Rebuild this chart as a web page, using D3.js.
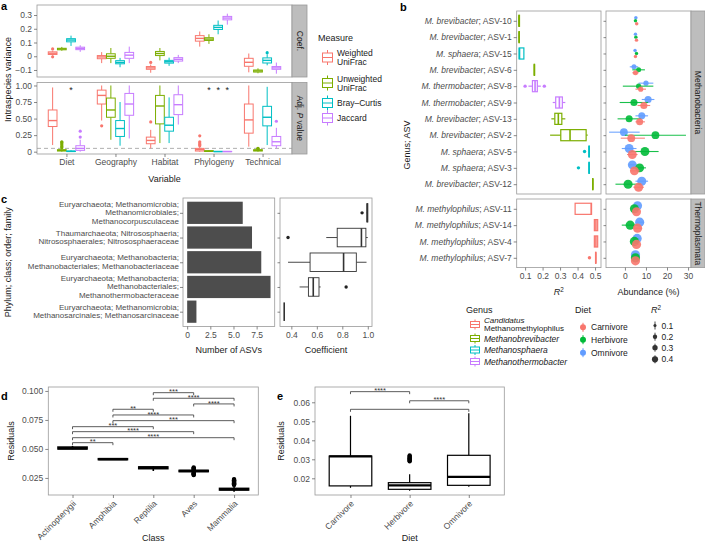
<!DOCTYPE html>
<html><head><meta charset="utf-8">
<script src="https://cdn.jsdelivr.net/npm/d3@7"></script>
<style>body{margin:0;background:#fff}</style>
</head><body>
<svg id="chart" width="705" height="543"></svg>
<script>
// ================= DATA =================
// ---- panel a ----
const aVariables = ["Diet","Geography","Habitat","Phylogeny","Technical"];
const aMeasures = ["Weighted UniFrac","Unweighted UniFrac","Bray–Curtis","Jaccard"];
const aMeasureLabels = [["Weighted","UniFrac"],["Unweighted","UniFrac"],["Bray–Curtis"],["Jaccard"]];
const aMeasureColors = ["#F8766D","#7CAE00","#00BFC4","#C77CFF"];
// [variable][measure] = [lowWhisker, q1, median, q3, highWhisker]
const aCoefStats = [
  [[0.005,0.013,0.022,0.032,0.040],[0.040,0.047,0.053,0.058,0.068],[0.075,0.105,0.118,0.128,0.150],[0.032,0.048,0.057,0.066,0.080]],
  [[-0.050,-0.018,-0.005,0.005,0.030],[-0.050,-0.015,0.000,0.018,0.060],[-0.080,-0.055,-0.045,-0.032,-0.012],[-0.050,-0.015,0.008,0.028,0.070]],
  [[-0.120,-0.095,-0.085,-0.075,-0.060],[-0.030,0.005,0.020,0.035,0.060],[-0.070,-0.050,-0.040,-0.030,-0.010],[-0.050,-0.035,-0.022,-0.010,0.010]],
  [[0.070,0.110,0.130,0.150,0.180],[0.090,0.115,0.125,0.135,0.160],[0.160,0.195,0.210,0.225,0.260],[0.230,0.265,0.278,0.290,0.310]],
  [[-0.117,-0.073,-0.044,-0.015,0.020],[-0.124,-0.115,-0.107,-0.100,-0.088],[-0.066,-0.049,-0.030,-0.012,0.015],[-0.127,-0.095,-0.085,-0.075,-0.046]]
];
const aCoefOutliers = [
  [[0.053,-0.004],[],[],[]],
  [[],[],[],[]],
  [[-0.045],[],[],[]],
  [[],[],[],[]],
  [[],[],[0.026],[]]
];
const aPvalStats = [
  [[0.10,0.38,0.47,0.63,0.97],[0,0.010,0.020,0.030,0.050],[0,0.002,0.005,0.010,0.020],[0,0.020,0.050,0.090,0.180]],
  [[0.47,0.72,0.85,0.93,1.00],[0.18,0.52,0.63,0.81,1.00],[0.09,0.23,0.35,0.47,0.75],[0.20,0.55,0.72,0.88,1.00]],
  [[0.05,0.12,0.17,0.22,0.33],[0.13,0.42,0.69,0.85,1.00],[0.13,0.31,0.40,0.52,0.82],[0.41,0.56,0.71,0.86,1.00]],
  [[0,0.010,0.030,0.050,0.070],[0,0.003,0.008,0.015,0.025],[0,0.001,0.002,0.004,0.008],[0,0.001,0.002,0.004,0.008]],
  [[0.076,0.28,0.48,0.72,1.00],[0,0.010,0.020,0.030,0.040],[0.10,0.39,0.52,0.685,0.98],[0.05,0.09,0.15,0.23,0.36]]
];
const aPvalOutliers = [
  [[],[0.06,0.08,0.10,0.12,0.14,0.15],[],[0.22,0.31]],
  [[0.39],[],[],[]],
  [[0.45],[],[],[]],
  [[0.09,0.11,0.13,0.15,0.24],[],[],[]],
  [[],[0.045,0.05],[],[0.46]]
];
const aPvalStars = [["","","*",""],["","","",""],["","","",""],["","*","*","*"],["","","",""]];
const aCoefTicks = [-0.1,0,0.1,0.2,0.3];
const aPvalTicks = [0,0.25,0.5,0.75,1];
const aPvalThreshold = 0.05;

// ---- panel b ----
const bGenera = ["Candidatus Methanomethylophilus","Methanobrevibacter","Methanosphaera","Methanothermobacter"];
const bGenusColors = ["#F8766D","#7CAE00","#00BFC4","#C77CFF"];
const bFacets = ["Methanobacteria","Thermoplasmata"];
const bAsvTop = ["ASV-10","ASV-1","ASV-15","ASV-6","ASV-8","ASV-9","ASV-13","ASV-2","ASV-5","ASV-3","ASV-12"];
const bGenusLabelTop = ["M. brevibacter","M. brevibacter","M. sphaera","M. brevibacter","M. thermobacter","M. thermobacter","M. brevibacter","M. brevibacter","M. sphaera","M. sphaera","M. brevibacter"];
const bGenusIdxTop = [1,1,2,1,3,3,1,1,2,2,1];
const bAsvBottom = ["ASV-11","ASV-14","ASV-4","ASV-7"];
const bGenusLabelBottom = ["M. methylophilus","M. methylophilus","M. methylophilus","M. methylophilus"];
const bGenusIdxBottom = [0,0,0,0];
// R2 boxplots, rows top then bottom
const bR2Stats = [
  [0.064,0.064,0.066,0.068,0.068],[0.064,0.065,0.066,0.067,0.068],[0.066,0.066,0.068,0.093,0.093],
  [0.152,0.152,0.153,0.154,0.155],[0.119,0.142,0.157,0.170,0.190],[0.258,0.275,0.296,0.313,0.330],
  [0.250,0.270,0.290,0.310,0.330],[0.243,0.304,0.357,0.449,0.458],[0.465,0.465,0.466,0.467,0.468],
  [0.465,0.465,0.466,0.467,0.468],[0.486,0.486,0.487,0.488,0.489],
  [0.386,0.386,0.478,0.480,0.480],[0.496,0.496,0.505,0.515,0.515],[0.496,0.496,0.505,0.515,0.515],[0.502,0.503,0.504,0.505,0.506]
];
const bR2Outliers = [[],[],[],[],[0.100,0.210],[],[],[],[0.440],[0.405],[],[],[],[],[0.468]];
const bDiets = ["Carnivore","Herbivore","Omnivore"];
const bDietColors = ["#F8766D","#00BA38","#619CFF"];
// [mean, low, high] abundance (%), rows top then bottom
const bCarnivore = [[5.6,5.0,6.2],[5.5,5.0,6.0],[5.0,4.4,5.6],[5.0,3.5,6.5],[7.5,5.0,10.0],[9.0,6.0,12.0],[7.0,5.0,9.5],[3.0,-2.0,9.5],[3.5,1.0,6.0],[4.5,2.5,7.0],[6.5,4.0,9.0],
  [5.5,4.5,6.5],[6.0,4.0,8.0],[5.5,4.5,6.5],[5.0,4.5,5.5]];
const bHerbivore = [[5.0,4.5,5.5],[5.2,4.6,5.8],[5.5,4.8,6.2],[6.5,3.5,9.5],[6.5,-1.0,13.5],[4.3,-2.5,11.0],[2.0,-3.5,7.5],[14.5,0.0,29.0],[9.5,3.0,16.0],[7.0,4.0,10.0],[1.5,-4.5,7.5],
  [4.5,3.5,5.5],[2.5,-1.5,6.0],[4.5,3.5,5.5],[5.0,4.5,5.5]];
const bOmnivore = [[5.2,4.6,5.8],[5.0,4.5,5.5],[4.8,4.2,5.4],[4.3,2.3,6.3],[10.0,6.5,13.5],[11.0,8.0,14.0],[8.0,5.0,11.0],[-0.5,-7.5,7.0],[2.0,-1.5,5.5],[3.5,2.0,5.5],[8.0,5.0,11.0],
  [6.0,5.0,7.0],[7.0,5.5,9.0],[5.8,4.8,6.8],[5.0,4.5,5.5]];
const bPointR2 = [0.07,0.07,0.07,0.15,0.16,0.30,0.29,0.36,0.47,0.47,0.49,0.48,0.50,0.50,0.50];
const bR2Ticks = [0.1,0.2,0.3,0.4,0.5];
const bAbundTicks = [0,10,20,30];
const bSizeLegend = [0.1,0.2,0.3,0.4];

// ---- panel c ----
const cFamilies = [
  ["Euryarchaeota; Methanomicrobia;","Methanomicrobiales;","Methanocorpusculaceae"],
  ["Thaumarchaeota; Nitrososphaeria;","Nitrososphaerales; Nitrososphaeraceae"],
  ["Euryarchaeota; Methanobacteria;","Methanobacteriales; Methanobacteriaceae"],
  ["Euryarchaeota; Methanobacteria;","Methanobacteriales;","Methanothermobacteraceae"],
  ["Euryarchaeota; Methanomicrobia;","Methanosarcinales; Methanosarcinaceae"]
];
const cNumASVs = [6,7,8,9,1];
const cCoefStats = [
  [0.990,0.993,0.996,1.000,1.000],
  [0.674,0.760,0.950,0.985,1.000],
  [0.374,0.547,0.810,0.910,0.990],
  [0.465,0.534,0.572,0.617,0.630],
  [0.344,0.344,0.344,0.344,0.344]
];
const cCoefOutliers = [[0.955],[0.374],[],[0.830],[]];
const cBarTicks = [0,2.5,5,7.5];
const cCoefTicks = [0.4,0.6,0.8,1.0];

// ---- panel d ----
const dClasses = ["Actinopterygii","Amphibia","Reptilia","Aves","Mammalia"];
const dStats = [
  [0.0498,0.0500,0.0506,0.0516,0.0526],
  [0.0406,0.0408,0.0412,0.0416,0.0418],
  [0.0310,0.0330,0.0339,0.0345,0.0350],
  [0.0300,0.0305,0.0310,0.0315,0.0320],
  [0.0130,0.0146,0.0153,0.0160,0.0175]
];
const dOutliers = [[],[],[],
  [0.0275,0.0280,0.0285,0.0290,0.0295,0.0325,0.0330,0.0335,0.0340],
  [0.0190,0.0195,0.0200,0.0205,0.0210,0.0215,0.0220,0.0225,0.0230,0.0235,0.0240]];
// [group1, group2, label, y]
const dBrackets = [
  ["Reptilia","Aves","***",0.0985],
  ["Reptilia","Mammalia","****",0.0937],
  ["Aves","Mammalia","****",0.0888],
  ["Amphibia","Reptilia","**",0.0842],
  ["Amphibia","Aves","****",0.0793],
  ["Amphibia","Mammalia","***",0.0744],
  ["Actinopterygii","Reptilia","***",0.0692],
  ["Actinopterygii","Aves","****",0.0649],
  ["Actinopterygii","Mammalia","****",0.0597],
  ["Actinopterygii","Amphibia","**",0.0554]
];
const dTicks = [0.025,0.05,0.075,0.1];

// ---- panel e ----
const eDiets = ["Carnivore","Herbivore","Omnivore"];
const eStats = [
  [0.0150,0.0160,0.0315,0.0317,0.0529],
  [0.0135,0.0142,0.0163,0.0177,0.0221],
  [0.0155,0.0163,0.0207,0.0321,0.0542]
];
const eOutliers = [[],[0.0290,0.0295,0.0300,0.0305,0.0310,0.0315,0.0320],[]];
const eBrackets = [
  ["Carnivore","Herbivore","****",0.0656],
  ["Herbivore","Omnivore","****",0.0608],
  ["Carnivore","Omnivore","",0.0563]
];
const eTicks = [0.02,0.03,0.04,0.05,0.06];

// ================= HELPERS =================
const FONT = '"Liberation Sans", Arial, Helvetica, sans-serif';
const svg = d3.select("#chart");
const BORDER = "#9a9a9a", TICK = "#555", TICKTXT = "#4d4d4d", STRIP = "#bdbdbd";

function addText(g, x, y, str, o = {}) {
  const t = g.append("text").attr("x", x).attr("y", y).text(str)
    .style("font-family", FONT).style("font-size", (o.size || 8.5) + "px")
    .attr("fill", o.fill || "#1a1a1a").attr("text-anchor", o.anchor || "start")
    .attr("dominant-baseline", o.baseline || "central");
  if (o.rotate != null) t.attr("transform", `rotate(${o.rotate},${x},${y})`);
  if (o.italic) t.style("font-style", "italic");
  if (o.bold) t.style("font-weight", "bold");
  return t;
}
function styleAxis(sel, size) {
  sel.select(".domain").remove();
  sel.selectAll(".tick line").attr("stroke", TICK).attr("stroke-width", 0.7);
  sel.selectAll(".tick text").attr("fill", TICKTXT).style("font-size", (size || 8.5) + "px").style("font-family", FONT);
}
function border(g, x0, y0, x1, y1) {
  g.append("rect").attr("x", x0).attr("y", y0).attr("width", x1 - x0).attr("height", y1 - y0)
    .attr("fill", "none").attr("stroke", BORDER).attr("stroke-width", 0.8);
}
function vbox(g, cx, w, y, st, color, o = {}) {
  const lw = o.lw || 1, mw = o.mw || lw * 1.6, fill = o.fill || "#fff";
  const [lo, q1, md, q3, hi] = st;
  g.append("line").attr("x1", cx).attr("x2", cx).attr("y1", y(lo)).attr("y2", y(q1)).attr("stroke", color).attr("stroke-width", lw);
  g.append("line").attr("x1", cx).attr("x2", cx).attr("y1", y(q3)).attr("y2", y(hi)).attr("stroke", color).attr("stroke-width", lw);
  g.append("rect").attr("x", cx - w / 2).attr("width", w).attr("y", y(q3)).attr("height", Math.max(0, y(q1) - y(q3)))
    .attr("fill", fill).attr("stroke", color).attr("stroke-width", lw);
  g.append("line").attr("x1", cx - w / 2).attr("x2", cx + w / 2).attr("y1", y(md)).attr("y2", y(md)).attr("stroke", color).attr("stroke-width", mw);
}
function hbox(g, cy, h, x, st, color, o = {}) {
  const lw = o.lw || 1, mw = o.mw || lw * 1.6, fill = o.fill || "#fff";
  const [lo, q1, md, q3, hi] = st;
  g.append("line").attr("y1", cy).attr("y2", cy).attr("x1", x(lo)).attr("x2", x(q1)).attr("stroke", color).attr("stroke-width", lw);
  g.append("line").attr("y1", cy).attr("y2", cy).attr("x1", x(q3)).attr("x2", x(hi)).attr("stroke", color).attr("stroke-width", lw);
  g.append("rect").attr("y", cy - h / 2).attr("height", h).attr("x", x(q1)).attr("width", Math.max(0, x(q3) - x(q1)))
    .attr("fill", fill).attr("stroke", color).attr("stroke-width", lw);
  g.append("line").attr("y1", cy - h / 2).attr("y2", cy + h / 2).attr("x1", x(md)).attr("x2", x(md)).attr("stroke", color).attr("stroke-width", mw);
}
function bracket(g, x1, x2, y, label) {
  g.append("path").attr("d", `M${x1},${y + 2.5}V${y}H${x2}V${y + 2.5}`)
    .attr("fill", "none").attr("stroke", "#333").attr("stroke-width", 0.8);
  if (label) addText(g, (x1 + x2) / 2, y + 1.6, label, { size: 7.5, anchor: "middle", baseline: "alphabetic", fill: "#333" });
}
function r2Title(g, x, y, anchor, size) {
  const t = g.append("text").attr("x", x).attr("y", y).attr("text-anchor", anchor || "middle")
    .attr("dominant-baseline", "central").style("font-family", FONT).style("font-size", (size || 9) + "px").attr("fill", "#1a1a1a");
  t.append("tspan").style("font-style", "italic").text("R");
  t.append("tspan").attr("dy", -3.5).style("font-size", ((size || 9) * 0.7) + "px").text("2");
  return t;
}

// ================= PANEL LABELS =================
addText(svg, 1, 6, "a", { size: 11, bold: true, fill: "#000" });
addText(svg, 400, 7, "b", { size: 11, bold: true, fill: "#000" });
addText(svg, 1, 199, "c", { size: 11, bold: true, fill: "#000" });
addText(svg, 1, 396, "d", { size: 11, bold: true, fill: "#000" });
addText(svg, 277, 396, "e", { size: 11, bold: true, fill: "#000" });

// ================= PANEL a =================
(function () {
  const g = svg.append("g");
  const L = 37, R = 292, T1 = 5, B1 = 77, T2 = 82.5, B2 = 154, SR = 307;
  const x = d3.scalePoint().domain(aVariables).range([L, R]).padding(0.6);
  const step = x.step();
  const dodge = d3.scaleBand().domain(aMeasures).range([-0.375 * step, 0.375 * step]);
  const bw = dodge.bandwidth();
  const yC = d3.scaleLinear().domain([-0.151, 0.373]).range([B1, T1]);
  const yP = d3.scaleLinear().domain([-0.035, 1.045]).range([B2, T2]);

  g.append("line").attr("x1", L).attr("x2", R).attr("y1", yP(aPvalThreshold)).attr("y2", yP(aPvalThreshold))
    .attr("stroke", "#9a9a9a").attr("stroke-width", 0.8).attr("stroke-dasharray", "4,3");

  aVariables.forEach((v, i) => {
    aMeasures.forEach((m, j) => {
      const cx = x(v) + dodge(m) + bw / 2;
      const col = aMeasureColors[j];
      vbox(g, cx, bw * 0.95, yC, aCoefStats[i][j], col, { lw: 1, mw: 1.4 });
      aCoefOutliers[i][j].forEach(o => g.append("circle").attr("cx", cx).attr("cy", yC(o)).attr("r", 1.6).attr("fill", col));
      vbox(g, cx, bw * 0.95, yP, aPvalStats[i][j], col, { lw: 1, mw: 1.4 });
      aPvalOutliers[i][j].forEach(o => g.append("circle").attr("cx", cx).attr("cy", yP(o)).attr("r", 1.6).attr("fill", col));
      if (aPvalStars[i][j]) addText(g, cx, 93, aPvalStars[i][j], { size: 9, anchor: "middle", baseline: "alphabetic", fill: "#222" });
    });
  });
  border(g, L, T1, R, B1);
  border(g, L, T2, R, B2);

  const ax1 = g.append("g").attr("transform", `translate(${L},0)`)
    .call(d3.axisLeft(yC).tickValues(aCoefTicks).tickSize(3).tickPadding(2).tickFormat(d => d === 0 ? "0" : d3.format(".1f")(d)));
  styleAxis(ax1);
  const ax2 = g.append("g").attr("transform", `translate(${L},0)`)
    .call(d3.axisLeft(yP).tickValues(aPvalTicks).tickSize(3).tickPadding(2).tickFormat(d => d === 0 ? "0" : d3.format(".2f")(d)));
  styleAxis(ax2);
  const axx = g.append("g").attr("transform", `translate(0,${B2})`).call(d3.axisBottom(x).tickSize(3).tickPadding(2));
  styleAxis(axx);

  g.append("rect").attr("x", R).attr("y", T1).attr("width", SR - R).attr("height", B1 - T1).attr("fill", STRIP).attr("stroke", BORDER).attr("stroke-width", 0.8);
  g.append("rect").attr("x", R).attr("y", T2).attr("width", SR - R).attr("height", B2 - T2).attr("fill", STRIP).attr("stroke", BORDER).attr("stroke-width", 0.8);
  addText(g, (R + SR) / 2, (T1 + B1) / 2, "Coef.", { size: 8.5, anchor: "middle", rotate: 90 });
  const st = g.append("text").attr("x", (R + SR) / 2).attr("y", (T2 + B2) / 2).attr("text-anchor", "middle")
    .attr("dominant-baseline", "central").attr("transform", `rotate(90,${(R + SR) / 2},${(T2 + B2) / 2})`)
    .style("font-family", FONT).style("font-size", "8.5px").attr("fill", "#1a1a1a");
  st.append("tspan").text("Adj. ");
  st.append("tspan").style("font-style", "italic").text("P");
  st.append("tspan").text(" value");

  addText(g, (L + R) / 2, 179, "Variable", { size: 9, anchor: "middle" });
  addText(g, 8, (T1 + B2) / 2, "Intraspecies variance", { size: 9, anchor: "middle", rotate: -90 });

  addText(g, 318, 38, "Measure", { size: 9 });
  const keyY = [57.5, 83, 103, 118];
  aMeasures.forEach((m, j) => {
    const cy = keyY[j], cx = 327.5, col = aMeasureColors[j];
    const ky = d3.scaleLinear().domain([0, 1]).range([cy + 7.5, cy - 7.5]);
    vbox(g, cx, 10, ky, [0, 0.2, 0.5, 0.8, 1], col, { lw: 1, mw: 1 });
    const lines = aMeasureLabels[j];
    lines.forEach((s, k) => addText(g, 337, cy + (k - (lines.length - 1) / 2) * 9, s, { size: 8.5 }));
  });
})();

// ================= PANEL b =================
(function () {
  const g = svg.append("g");
  const L1 = 516.7, R1 = 601, L2 = 606, R2 = 691, SR = 705;
  const T1 = 11, B1 = 194, T2 = 199, B2 = 267.6;
  const yT = d3.scalePoint().domain(bAsvTop).range([T1, B1]).padding(0.6);
  const yB = d3.scalePoint().domain(bAsvBottom).range([T2, B2]).padding(0.6);
  const xR = d3.scaleLinear().domain([0.052, 0.534]).range([L1, R1]);
  const xA = d3.scaleLinear().domain([-9, 31.4]).range([L2, R2]);
  const size = d3.scaleSqrt().domain([0, 0.5]).range([0, 4.6]);
  const bh = yT.step() * 0.68;

  const rows = bAsvTop.map((a, i) => ({ y: yT(a), gi: bGenusIdxTop[i] }))
    .concat(bAsvBottom.map((a, i) => ({ y: yB(a), gi: bGenusIdxBottom[i] })));

  rows.forEach((r, i) => {
    const col = bGenusColors[r.gi];
    hbox(g, r.y, bh, xR, bR2Stats[i], col, { lw: 1.2, mw: 1.6 });
    bR2Outliers[i].forEach(o => g.append("circle").attr("cx", xR(o)).attr("cy", r.y).attr("r", 1.7).attr("fill", col));
    const sets = [bCarnivore, bHerbivore, bOmnivore];
    const offs = [3, 0, -3];
    [2, 1, 0].forEach(d => {
      const [m, lo, hi] = sets[d][i];
      const yy = r.y + offs[d];
      g.append("line").attr("x1", xA(lo)).attr("x2", xA(hi)).attr("y1", yy).attr("y2", yy)
        .attr("stroke", bDietColors[d]).attr("stroke-width", 1.1).attr("opacity", 0.9);
      g.append("circle").attr("cx", xA(m)).attr("cy", yy).attr("r", size(bPointR2[i]))
        .attr("fill", bDietColors[d]).attr("opacity", 0.9);
    });
  });
  [[T1, B1], [T2, B2]].forEach(([t, b]) => { border(g, L1, t, R1, b); border(g, L2, t, R2, b); });

  function labelAxis(scale, genusLabels) {
    const ax = g.append("g").attr("transform", `translate(${L1},0)`).call(d3.axisLeft(scale).tickSize(3).tickPadding(2));
    styleAxis(ax);
    ax.selectAll(".tick text").each(function (d, i) {
      const t = d3.select(this); t.text(null);
      t.append("tspan").style("font-style", "italic").text(genusLabels[i]);
      t.append("tspan").text("; " + d);
    });
    const ax2 = g.append("g").attr("transform", `translate(${L2},0)`).call(d3.axisLeft(scale).tickSize(2.5).tickFormat(""));
    styleAxis(ax2);
  }
  labelAxis(yT, bGenusLabelTop);
  labelAxis(yB, bGenusLabelBottom);

  const axr = g.append("g").attr("transform", `translate(0,${B2})`).call(d3.axisBottom(xR).tickValues(bR2Ticks).tickSize(3).tickPadding(2).tickFormat(d3.format(".1f")));
  styleAxis(axr);
  const axa = g.append("g").attr("transform", `translate(0,${B2})`).call(d3.axisBottom(xA).tickValues(bAbundTicks).tickSize(3).tickPadding(2));
  styleAxis(axa);

  g.append("rect").attr("x", R2).attr("y", T1).attr("width", SR - R2).attr("height", B1 - T1).attr("fill", STRIP).attr("stroke", BORDER).attr("stroke-width", 0.8);
  g.append("rect").attr("x", R2).attr("y", T2).attr("width", SR - R2).attr("height", B2 - T2).attr("fill", STRIP).attr("stroke", BORDER).attr("stroke-width", 0.8);
  addText(g, (R2 + SR) / 2, (T1 + B1) / 2, bFacets[0], { size: 8.5, anchor: "middle", rotate: 90 });
  addText(g, (R2 + SR) / 2, (T2 + B2) / 2, bFacets[1], { size: 8.5, anchor: "middle", rotate: 90 });

  r2Title(g, (L1 + R1) / 2, 292, "middle", 9);
  addText(g, (L2 + R2) / 2, 292, "Abundance (%)", { size: 9, anchor: "middle" });
  addText(g, 407, 145, "Genus; ASV", { size: 9, anchor: "middle", rotate: -90 });

  addText(g, 466, 310, "Genus", { size: 9 });
  const gy = [324.5, 338.5, 350, 361.5];
  bGenera.forEach((name, k) => {
    const cy = gy[k], col = bGenusColors[k];
    const ky = d3.scaleLinear().domain([0, 1]).range([cy + 5, cy - 5]);
    vbox(g, 475, 9, ky, [0, 0.2, 0.5, 0.8, 1], col, { lw: 1, mw: 1 });
    if (k === 0) {
      addText(g, 484, cy - 4.1, "Candidatus", { size: 8, italic: true });
      addText(g, 484, cy + 4.1, "Methanomethylophilus", { size: 8 });
    } else addText(g, 484, cy, name, { size: 8.5, italic: true });
  });
  addText(g, 575, 310, "Diet", { size: 9 });
  const dy = [327.3, 339.7, 352.7];
  bDiets.forEach((name, k) => {
    g.append("line").attr("x1", 583).attr("x2", 583).attr("y1", dy[k] - 4.5).attr("y2", dy[k] + 4.5).attr("stroke", bDietColors[k]).attr("stroke-width", 1);
    g.append("circle").attr("cx", 583).attr("cy", dy[k]).attr("r", 3).attr("fill", bDietColors[k]);
    addText(g, 591, dy[k], name, { size: 8.5 });
  });
  r2Title(g, 651, 310, "start", 9);
  const sy = [325.5, 336.7, 347.7, 359.3];
  bSizeLegend.forEach((v, k) => {
    g.append("line").attr("x1", 655).attr("x2", 655).attr("y1", sy[k] - 4).attr("y2", sy[k] + 4).attr("stroke", "#333").attr("stroke-width", 0.9);
    g.append("circle").attr("cx", 655).attr("cy", sy[k]).attr("r", size(v) * 0.75).attr("fill", "#333");
    addText(g, 661.5, sy[k], d3.format(".1f")(v), { size: 8.5 });
  });
})();

// ================= PANEL c =================
(function () {
  const g = svg.append("g");
  const L1 = 183, R1 = 274.7, L2 = 280, R2 = 372, T = 198, B = 326.5;
  const keys = cFamilies.map((f, i) => "f" + i);
  const y = d3.scalePoint().domain(keys).range([T, B]).padding(0.6);
  const xB = d3.scaleLinear().domain([-0.45, 9.45]).range([L1, R1]);
  const xC = d3.scaleLinear().domain([0.311, 1.033]).range([L2, R2]);
  const h = y.step() * 0.9;
  keys.forEach((k, i) => {
    g.append("rect").attr("x", xB(0)).attr("y", y(k) - h / 2).attr("width", xB(cNumASVs[i]) - xB(0)).attr("height", h).attr("fill", "#4d4d4d");
    hbox(g, y(k), y.step() * 0.75, xC, cCoefStats[i], "#333", { lw: 0.9, mw: 1.6 });
    cCoefOutliers[i].forEach(o => g.append("circle").attr("cx", xC(o)).attr("cy", y(k)).attr("r", 1.7).attr("fill", "#222"));
  });
  border(g, L1, T, R1, B);
  border(g, L2, T, R2, B);
  const ay = g.append("g").attr("transform", `translate(${L1},0)`).call(d3.axisLeft(y).tickSize(3).tickFormat(""));
  styleAxis(ay);
  const ay2 = g.append("g").attr("transform", `translate(${L2},0)`).call(d3.axisLeft(y).tickSize(2.5).tickFormat(""));
  styleAxis(ay2);
  keys.forEach((k, i) => {
    const lines = cFamilies[i];
    lines.forEach((s, j) => addText(g, 179, y(k) + (j - (lines.length - 1) / 2) * 8.6, s, { size: 8, anchor: "end", fill: TICKTXT }));
  });
  const axb = g.append("g").attr("transform", `translate(0,${B})`)
    .call(d3.axisBottom(xB).tickValues(cBarTicks).tickSize(3).tickPadding(2).tickFormat(d => d === 0 ? "0" : d3.format(".1f")(d)));
  styleAxis(axb);
  const axc = g.append("g").attr("transform", `translate(0,${B})`)
    .call(d3.axisBottom(xC).tickValues(cCoefTicks).tickSize(3).tickPadding(2).tickFormat(d3.format(".1f")));
  styleAxis(axc);
  addText(g, (L1 + R1) / 2, 350, "Number of ASVs", { size: 9, anchor: "middle" });
  addText(g, (L2 + R2) / 2, 350, "Coefficient", { size: 9, anchor: "middle" });
  addText(g, 8, (T + B) / 2, "Phylum; class; order; family", { size: 9, anchor: "middle", rotate: -90 });
})();

// ================= PANEL d =================
(function () {
  const g = svg.append("g");
  const L = 48.3, R = 258.3, T = 387, B = 495;
  const x = d3.scalePoint().domain(dClasses).range([L, R]).padding(0.6);
  const y = d3.scaleLinear().domain([0.0103, 0.1034]).range([B, T]);
  const w = x.step() * 0.72;
  dClasses.forEach((c, i) => {
    dOutliers[i].forEach(o => g.append("circle").attr("cx", x(c)).attr("cy", y(o)).attr("r", 2.2).attr("fill", "#000"));
    vbox(g, x(c), w, y, dStats[i], "#000", { lw: 1.6, mw: 2.4 });
  });
  dBrackets.forEach(([a, b, lab, v]) => bracket(g, x(a), x(b), y(v), lab));
  border(g, L, T, R, B);
  const ay = g.append("g").attr("transform", `translate(${L},0)`).call(d3.axisLeft(y).tickValues(dTicks).tickSize(3).tickPadding(2).tickFormat(d3.format(".3f")));
  styleAxis(ay);
  const ax = g.append("g").attr("transform", `translate(0,${B})`).call(d3.axisBottom(x).tickSize(3).tickFormat(""));
  styleAxis(ax);
  dClasses.forEach(c => addText(g, x(c) + 2, B + 7, c, { size: 8.5, anchor: "end", rotate: -45, fill: TICKTXT, baseline: "central" }));
  addText(g, (L + R) / 2, 538, "Class", { size: 9, anchor: "middle" });
  addText(g, 11, (T + B) / 2, "Residuals", { size: 9, anchor: "middle", rotate: -90 });
})();

// ================= PANEL e =================
(function () {
  const g = svg.append("g");
  const L = 315, R = 504.3, T = 387, B = 495;
  const x = d3.scalePoint().domain(eDiets).range([L, R]).padding(0.6);
  const y = d3.scaleLinear().domain([0.01121, 0.06805]).range([B, T]);
  const w = x.step() * 0.72;
  eDiets.forEach((c, i) => {
    eOutliers[i].forEach(o => g.append("circle").attr("cx", x(c)).attr("cy", y(o)).attr("r", 2.2).attr("fill", "#000"));
    vbox(g, x(c), w, y, eStats[i], "#000", { lw: 1.2, mw: 2.2 });
  });
  eBrackets.forEach(([a, b, lab, v]) => bracket(g, x(a), x(b), y(v), lab));
  border(g, L, T, R, B);
  const ay = g.append("g").attr("transform", `translate(${L},0)`).call(d3.axisLeft(y).tickValues(eTicks).tickSize(3).tickPadding(2).tickFormat(d3.format(".2f")));
  styleAxis(ay);
  const ax = g.append("g").attr("transform", `translate(0,${B})`).call(d3.axisBottom(x).tickSize(3).tickFormat(""));
  styleAxis(ax);
  eDiets.forEach(c => addText(g, x(c) + 2, B + 7, c, { size: 8.5, anchor: "end", rotate: -45, fill: TICKTXT, baseline: "central" }));
  addText(g, (L + R) / 2, 538, "Diet", { size: 9, anchor: "middle" });
  addText(g, 281, (T + B) / 2, "Residuals", { size: 9, anchor: "middle", rotate: -90 });
})();
</script>
</body></html>
